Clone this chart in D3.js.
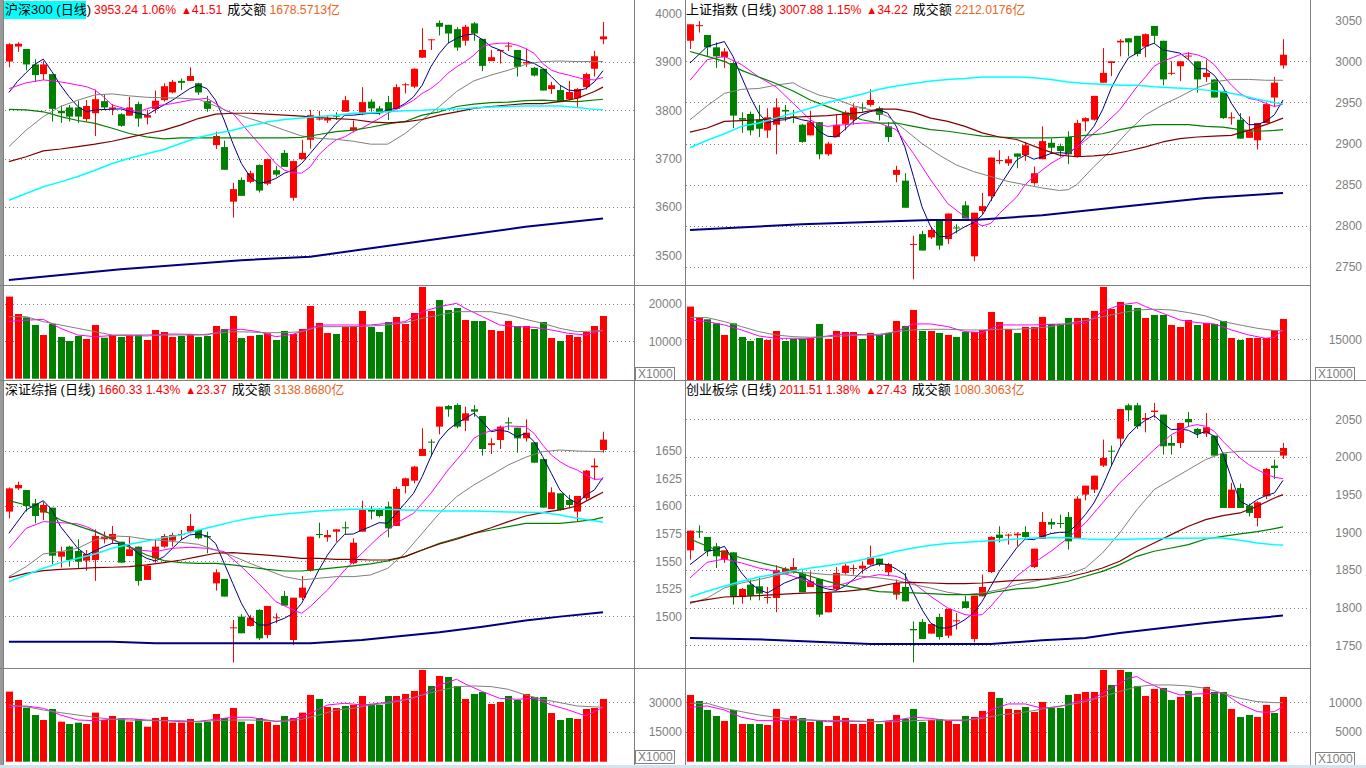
<!DOCTYPE html>
<html><head><meta charset="utf-8">
<script src="https://cdn.jsdelivr.net/npm/d3@7"></script>
<style>body{margin:0;background:#fff;overflow:hidden}svg{display:block}</style>
</head><body><svg id="c" width="1366" height="768"></svg>
<script>
// ---------- header data ----------
const indexNames=['沪深300','上证指数','深证综指','创业板综'];
const lastClose=['3953.24','3007.88','1660.33','2011.51'];
const pctChange=['1.06%','1.15%','1.43%','1.38%'];
const ptChange=['41.51','34.22','23.37','27.43'];
const turnover=['1678.5713','2212.0176','3138.8680','1080.3063'];

// ---------- tick labels ----------
const hs300PriceTicks=[4000,3900,3800,3700,3600,3500];
const hs300GridTicks=[3900,3800,3700,3600,3500];
const hs300VolTicks=[20000,10000];
const shPriceTicks=[3050,3000,2950,2900,2850,2800,2750];
const shGridTicks=[3000,2950,2900,2850,2800,2750];
const shVolTicks=[15000];
const szPriceTicks=[1650,1625,1600,1575,1550,1525,1500];
const szGridTicks=[1650,1600,1550,1500];
const szVolTicks=[30000,15000];
const cybPriceTicks=[2050,2000,1950,1900,1850,1800,1750];
const cybGridTicks=[2050,2000,1950,1900,1850,1800,1750];
const cybVolTicks=[10000,5000];

// ---------- 沪深300 ----------
const hs300Ohlc=[[3901,3939,3889,3937],[3932,3941,3921,3938],[3927,3927,3883,3895],[3895,3906,3859,3873],[3875,3902,3863,3895],[3875,3875,3777,3803],[3799,3810,3774,3794],[3806,3811,3777,3787],[3806,3820,3774,3787],[3782,3821,3777,3809],
[3794,3843,3747,3823],[3819,3833,3801,3806],[3803,3813,3790,3806],[3792,3794,3766,3768],[3789,3828,3789,3806],[3813,3818,3766,3783],[3785,3801,3771,3790],[3803,3841,3794,3820],[3821,3856,3818,3850],[3837,3863,3835,3859],
[3861,3866,3842,3857],[3861,3889,3861,3871],[3856,3857,3832,3837],[3819,3830,3797,3803],[3728,3756,3720,3747],[3724,3737,3677,3677],[3611,3650,3578,3637],[3656,3661,3623,3623],[3652,3675,3649,3670],[3687,3688,3630,3634],
[3648,3700,3645,3699],[3676,3685,3663,3667],[3712,3718,3683,3683],[3619,3696,3613,3695],[3699,3739,3699,3712],[3739,3801,3721,3790],[3781,3799,3779,3783],[3779,3790,3774,3783],[3789,3796,3780,3787],[3797,3830,3797,3821],
[3759,3779,3754,3765],[3794,3848,3790,3817],[3818,3823,3797,3804],[3804,3809,3790,3794],[3817,3830,3780,3797],[3803,3854,3802,3848],[3852,3857,3835,3854],[3849,3887,3846,3886],[3909,3970,3909,3925],[3945,3947,3925,3947],
[3981,3986,3955,3973],[3977,3977,3939,3959],[3968,3972,3923,3930],[3944,3977,3934,3973],[3980,3983,3944,3959],[3948,3948,3881,3892],[3902,3925,3902,3910],[3923,3925,3897,3925],[3932,3941,3923,3934],[3925,3925,3870,3890],
[3897,3928,3890,3900],[3888,3890,3870,3872],[3886,3886,3841,3841],[3844,3859,3834,3852],[3842,3851,3817,3817],[3823,3861,3821,3838],[3825,3846,3806,3844],[3848,3878,3843,3875],[3886,3923,3870,3912],[3947,3983,3937,3953]];
const hs300Vol=[21970,17320,16430,14380,11700,14640,11160,10090,11430,10630,14380,10980,11700,11160,11700,11700,10360,13040,12500,11160,11430,11970,11160,11430,14110,13310,16790,10890,11430,11700,12150,10360,12770,11970,13310,19470,14910,12230,11970,13840,14110,18130,13840,12500,15180,16520,14640,17590,24560,18130,21070,18400,18930,15720,15450,15450,13040,12770,15450,14110,14110,13310,15180,10890,10090,11700,11160,12500,14110,16790];
const hs300Ma5=[[0,3837],[1,3860],[2,3878],[3,3895],[4,3906],[5,3880],[6,3852],[7,3828],[8,3808],[9,3797],[10,3801],[13,3803],[15,3794],[16,3790],[17,3801],[19,3821],[21,3845],[22,3852],[23,3845],[24,3821],[25,3780],[26,3732],[27,3690],[28,3663],[29,3649],[30,3652],[31,3659],[32,3670],[33,3676],[34,3690],[35,3711],[36,3732],[37,3752],[38,3773],[39,3790],[40,3790],[41,3792],[42,3794],[43,3794],[44,3801],[45,3804],[46,3814],[47,3828],[48,3852],[49,3890],[50,3918],[51,3939],[52,3949],[53,3956],[54,3958],[55,3946],[56,3932],[57,3925],[58,3914],[59,3908],[60,3903],[61,3897],[62,3887],[63,3870],[64,3852],[65,3842],[66,3840],[67,3845],[68,3859],[69,3882]];
const hs300Ma10=[[0,3845],[2,3857],[4,3863],[6,3859],[9,3849],[10,3842],[11,3828],[12,3811],[14,3801],[15,3797],[17,3809],[19,3814],[21,3821],[23,3825],[24,3814],[25,3801],[26,3794],[27,3773],[28,3752],[29,3732],[30,3711],[31,3690],[32,3676],[33,3671],[34,3670],[35,3683],[36,3708],[37,3725],[38,3739],[39,3745],[40,3756],[41,3763],[42,3773],[43,3783],[44,3794],[45,3802],[46,3811],[47,3821],[48,3835],[49,3845],[50,3859],[51,3877],[52,3890],[53,3901],[54,3914],[55,3932],[56,3937],[57,3939],[58,3939],[59,3935],[60,3928],[61,3918],[62,3897],[63,3883],[64,3877],[65,3873],[66,3868],[67,3864],[68,3863],[69,3868]];
const hs300Ma20=[[0,3725],[2,3759],[4,3787],[6,3808],[8,3821],[10,3832],[12,3834],[14,3830],[16,3827],[18,3826],[20,3825],[22,3823],[24,3809],[26,3794],[28,3783],[30,3772],[32,3759],[34,3747],[36,3742],[38,3740],[40,3736],[42,3730],[44,3730],[46,3752],[48,3780],[50,3808],[52,3839],[54,3861],[56,3873],[58,3883],[60,3895],[62,3901],[64,3902],[66,3901],[69,3901]];
const hs300Ma30=[[0,3802],[2,3801],[4,3797],[6,3787],[8,3779],[10,3773],[12,3763],[14,3752],[16,3745],[18,3741],[20,3743],[24,3743],[28,3743],[32,3743],[34,3744],[36,3750],[38,3756],[40,3759],[42,3765],[44,3772],[46,3777],[48,3790],[50,3797],[52,3808],[54,3813],[56,3816],[58,3817],[60,3820],[62,3821],[64,3819],[66,3818],[69,3823]];
const hs300Ma60=[[0,3694],[2,3704],[4,3716],[6,3720],[8,3725],[10,3730],[12,3736],[14,3744],[16,3752],[18,3759],[20,3770],[22,3783],[24,3792],[26,3794],[28,3794],[30,3792],[32,3790],[34,3788],[36,3785],[38,3783],[40,3781],[42,3776],[44,3774],[46,3776],[48,3781],[50,3790],[52,3797],[54,3804],[56,3808],[58,3811],[60,3814],[62,3814],[64,3818],[66,3825],[68,3839],[69,3848]];
const hs300Ma120=[[0,3614],[2,3628],[4,3642],[6,3652],[8,3663],[10,3676],[12,3690],[14,3701],[16,3710],[18,3719],[20,3732],[22,3744],[24,3752],[26,3759],[28,3768],[30,3776],[32,3781],[34,3784],[36,3787],[38,3790],[40,3794],[42,3795],[44,3797],[46,3799],[48,3800],[50,3802],[52,3803],[54,3805],[56,3807],[58,3808],[60,3809],[62,3809],[64,3809],[66,3806],[68,3802],[69,3801]];
const hs300Ma250=[[0,3449],[13,3471],[27,3490],[35,3497],[41,3512],[51,3537],[60,3559],[69,3576]];
const hs300VolMa5=[[0,15270],[1,15540],[4,15900],[6,13480],[8,11700],[10,11250],[13,11700],[16,11700],[19,11970],[21,11880],[23,11700],[25,13040],[27,13220],[29,12590],[31,11250],[33,11880],[35,13480],[36,14380],[38,14380],[40,14380],[42,14380],[44,14820],[46,15270],[48,17950],[50,19290],[52,20180],[53,18840],[55,16610],[57,14380],[59,13930],[61,13750],[63,13040],[65,12140],[67,11700],[69,13040]];
const hs300VolMa10=[[0,16610],[2,16610],[4,15270],[6,14380],[8,13480],[10,12590],[12,11700],[14,11520],[16,11430],[18,11700],[20,11700],[22,11700],[24,12140],[26,12590],[28,12500],[30,12320],[32,12320],[34,12590],[36,13930],[38,13930],[40,13930],[42,14110],[44,14380],[46,15000],[48,16160],[50,17060],[52,17950],[54,17950],[56,17950],[58,17060],[60,15900],[62,14820],[64,13480],[66,12590],[69,12860]];

// ---------- 上证指数 ----------
const shOhlc=[[3025,3045,3015,3045],[3043,3049,3035,3044],[3032,3032,3006,3017],[3017,3023,2992,3006],[3005,3016,2992,3012],[2998,3000,2919,2934],[2931,2938,2913,2929],[2936,2939,2910,2916],[2929,2947,2908,2918],[2916,2943,2907,2932],
[2923,2955,2887,2944],[2941,2947,2927,2939],[2933,2941,2925,2932],[2923,2924,2901,2902],[2910,2940,2910,2926],[2926,2926,2881,2887],[2887,2902,2885,2900],[2908,2935,2908,2923],[2924,2940,2916,2938],[2929,2949,2923,2944],
[2944,2949,2939,2943],[2947,2966,2945,2953],[2943,2945,2928,2935],[2921,2926,2902,2908],[2862,2873,2853,2868],[2855,2864,2822,2822],[2777,2788,2735,2778],[2790,2794,2770,2770],[2786,2799,2784,2795],[2807,2808,2771,2776],
[2784,2815,2778,2815],[2798,2802,2791,2797],[2825,2830,2809,2809],[2763,2816,2757,2816],[2818,2840,2814,2824],[2836,2883,2830,2883],[2879,2892,2875,2880],[2876,2885,2873,2881],[2888,2888,2870,2884],[2886,2902,2879,2898],
[2852,2872,2850,2864],[2881,2921,2881,2903],[2901,2906,2889,2895],[2897,2900,2884,2891],[2908,2915,2875,2887],[2884,2929,2883,2925],[2927,2932,2915,2931],[2929,2958,2928,2958],[2974,3016,2974,2986],[2998,3000,2982,3000],
[3023,3027,3006,3025],[3028,3028,3006,3023],[3031,3031,3006,3009],[3018,3034,3005,3033],[3043,3043,3022,3031],[3025,3025,2971,2978],[2985,3000,2983,2986],[2994,3000,2976,3000],[3006,3011,3002,3007],[3000,3000,2962,2978],
[2981,3002,2975,2986],[2978,2978,2956,2956],[2964,2964,2930,2931],[2931,2938,2923,2932],[2929,2937,2906,2906],[2907,2933,2907,2915],[2904,2925,2893,2925],[2925,2949,2925,2948],[2956,2981,2945,2974],[2995,3027,2991,3008]];
const shVol=[27050,22990,22380,20900,16600,20900,15860,14390,15490,14750,18070,14390,15120,15120,15490,20660,15120,18070,17700,17700,15120,17340,16600,17340,21760,19920,25820,18070,18070,17340,16600,15860,17700,17700,18440,25080,21390,18810,17340,19550,19550,23240,20660,20660,22870,22870,22870,25450,34300,26190,28770,27660,26560,22870,23980,23980,20290,19550,22130,20290,21020,20660,21760,15490,14750,15490,15490,15490,18440,22500];
const shMa5=[[0,2998],[2,3018],[4,3024],[5,3006],[6,2981],[7,2957],[8,2937],[9,2925],[10,2928],[11,2929],[12,2932],[13,2929],[14,2927],[15,2915],[16,2909],[17,2908],[18,2917],[19,2927],[20,2935],[21,2939],[22,2941],[23,2937],[24,2921],[25,2896],[26,2860],[27,2823],[28,2799],[29,2787],[30,2787],[31,2793],[32,2799],[33,2804],[34,2813],[35,2831],[36,2848],[37,2864],[38,2880],[39,2886],[40,2881],[41,2884],[42,2888],[43,2889],[44,2888],[45,2896],[46,2908],[47,2921],[48,2941],[49,2967],[50,2987],[51,3004],[52,3010],[53,3018],[54,3022],[55,3014],[56,3012],[57,3010],[58,3002],[59,2991],[60,2991],[61,2983],[62,2969],[63,2949],[64,2933],[65,2923],[66,2923],[67,2927],[68,2935],[69,2953]];
const shMa10=[[0,2977],[2,3002],[4,3006],[6,2996],[8,2981],[10,2969],[12,2949],[14,2929],[15,2923],[16,2921],[18,2923],[20,2925],[22,2925],[24,2917],[26,2888],[28,2856],[30,2827],[32,2811],[34,2800],[35,2803],[36,2815],[38,2835],[39,2850],[40,2860],[42,2876],[44,2888],[46,2904],[48,2921],[50,2941],[52,2969],[53,2981],[54,2994],[55,3000],[57,3008],[58,3010],[59,3008],[60,3004],[61,2996],[62,2983],[63,2971],[64,2961],[65,2955],[66,2953],[67,2949],[68,2945],[69,2948]];
const shMa20=[[0,2929],[2,2946],[4,2961],[6,2966],[8,2967],[10,2971],[12,2974],[13,2968],[15,2959],[17,2954],[19,2946],[21,2941],[23,2933],[25,2917],[27,2900],[29,2886],[31,2874],[33,2866],[35,2860],[37,2854],[39,2850],[41,2846],[43,2843],[44,2844],[45,2850],[47,2872],[49,2892],[51,2915],[53,2935],[55,2947],[57,2957],[59,2968],[61,2975],[63,2978],[65,2978],[67,2977],[69,2977]];
const shMa30=[[0,3012],[2,3006],[4,3000],[6,2989],[8,2981],[10,2973],[12,2964],[14,2953],[16,2945],[18,2937],[20,2929],[22,2925],[24,2925],[26,2921],[28,2917],[30,2915],[32,2912],[34,2909],[36,2908],[38,2907],[40,2907],[42,2907],[44,2908],[46,2910],[48,2912],[50,2917],[52,2921],[54,2923],[56,2923],[58,2923],[60,2921],[62,2920],[64,2917],[66,2915],[68,2916],[69,2917]];
const shMa60=[[0,2914],[2,2919],[4,2927],[6,2928],[8,2929],[10,2930],[12,2932],[14,2933],[16,2934],[18,2936],[20,2938],[22,2942],[24,2942],[26,2938],[28,2931],[30,2927],[32,2921],[34,2913],[36,2908],[38,2905],[39,2901],[41,2893],[43,2886],[45,2884],[47,2885],[49,2887],[51,2891],[53,2896],[55,2902],[57,2906],[59,2908],[61,2909],[63,2910],[65,2916],[67,2923],[69,2931]];
const shMa120=[[0,2895],[2,2904],[4,2912],[6,2921],[8,2925],[10,2931],[12,2937],[14,2943],[16,2950],[18,2955],[20,2960],[22,2966],[24,2970],[26,2973],[28,2976],[30,2978],[32,2979],[34,2981],[36,2981],[38,2981],[40,2980],[42,2978],[44,2975],[46,2973],[48,2972],[50,2971],[52,2971],[54,2969],[56,2968],[58,2967],[60,2965],[62,2963],[64,2959],[66,2954],[68,2950],[69,2948]];
const shMa250=[[0,2795],[13,2802],[28,2807],[33,2807],[41,2813],[50,2823],[60,2834],[69,2840]];
const shVolMa5=[[0,22130],[2,21520],[4,20290],[6,18440],[8,16230],[10,15370],[12,15370],[14,15370],[16,16230],[18,16970],[20,16720],[22,16480],[24,17830],[26,20660],[28,20660],[30,19670],[32,17830],[34,17460],[36,20290],[38,20290],[40,20290],[42,20530],[44,20660],[46,20900],[48,25200],[50,27660],[52,28520],[53,27050],[55,24590],[57,22130],[59,21150],[61,20660],[63,18440],[65,16600],[67,15370],[68,15740],[69,18440]];
const shVolMa10=[[0,23110],[2,22990],[4,21520],[6,19670],[8,17830],[10,16600],[12,15980],[14,15740],[16,15980],[18,16230],[20,16600],[22,16840],[24,17830],[26,18440],[28,18690],[30,18690],[32,18440],[34,18440],[36,18690],[38,18690],[40,19060],[42,19670],[44,20900],[46,21890],[48,23360],[50,24590],[52,25820],[54,26070],[56,25820],[58,24840],[60,23610],[62,21520],[64,20290],[66,19060],[68,18200],[69,18200]];

// ---------- 深证综指 ----------
const szOhlc=[[1595.0,1617.0,1588.9,1616.1],[1616.1,1622.2,1614.6,1619.2],[1614.6,1614.6,1595.0,1600.1],[1602.5,1606.5,1584.4,1591.0],[1594.1,1604.0,1587.4,1601.0],[1598.6,1598.6,1547.2,1555.0],[1554.1,1563.2,1544.2,1558.7],[1563.2,1564.1,1545.1,1551.1],[1559.3,1569.9,1543.6,1549.6],[1550.5,1560.2,1541.4,1556.6],
[1551.1,1578.9,1532.1,1572.9],[1569.9,1576.8,1566.2,1572.3],[1569.9,1582.0,1566.2,1574.7],[1567.7,1567.7,1548.7,1548.7],[1554.7,1572.3,1554.7,1560.8],[1563.2,1563.2,1527.8,1532.1],[1533.0,1546.0,1533.0,1546.0],[1552.6,1569.9,1548.7,1563.2],[1563.2,1574.7,1562.3,1572.9],[1568.7,1575.9,1563.2,1573.8],
[1573.8,1578.3,1569.3,1574.7],[1576.8,1592.8,1575.3,1582.0],[1578.3,1578.3,1569.9,1570.8],[1572.9,1576.8,1557.2,1571.7],[1529.9,1542.6,1523.3,1539.9],[1533.9,1533.9,1517.9,1517.9],[1489.1,1496.7,1458.0,1490.0],[1499.7,1501.8,1484.6,1484.6],[1491.2,1501.2,1490.6,1498.8],[1505.8,1506.4,1478.5,1480.0],
[1483.1,1509.4,1480.0,1509.4],[1498.2,1502.7,1493.7,1499.1],[1518.5,1523.0,1509.7,1509.7],[1478.5,1516.9,1474.0,1516.9],[1516.9,1536.6,1514.8,1526.0],[1541.4,1572.3,1540.5,1572.3],[1574.7,1585.0,1570.8,1573.8],[1571.7,1578.3,1567.7,1573.8],[1576.8,1578.9,1567.7,1578.9],[1580.8,1585.9,1574.7,1579.8],
[1548.1,1570.8,1547.2,1566.8],[1576.8,1604.9,1576.8,1596.5],[1597.1,1600.1,1588.0,1595.0],[1596.5,1598.0,1589.8,1591.0],[1599.5,1604.0,1571.7,1579.8],[1582.0,1617.6,1582.0,1615.5],[1618.2,1625.8,1611.6,1625.2],[1623.1,1636.4,1620.7,1635.8],[1645.5,1670.6,1645.5,1651.8],[1658.5,1660.6,1644.9,1657.6],
[1672.1,1690.2,1665.1,1690.2],[1690.8,1691.7,1681.1,1687.8],[1691.7,1693.2,1670.6,1672.1],[1677.5,1690.2,1668.1,1684.2],[1687.8,1691.7,1681.1,1685.7],[1681.8,1681.8,1645.8,1651.8],[1655.4,1661.5,1647.3,1657.0],[1660.0,1673.0,1651.8,1672.1],[1676.0,1680.5,1669.1,1675.1],[1671.2,1671.2,1648.5,1661.5],
[1661.5,1678.7,1658.5,1666.6],[1657.9,1657.9,1639.4,1639.4],[1642.7,1642.7,1598.6,1598.6],[1597.4,1617.0,1597.4,1612.5],[1611.6,1611.6,1595.9,1596.5],[1605.5,1610.1,1598.0,1601.0],[1595.0,1609.2,1585.9,1609.2],[1607.1,1632.8,1604.9,1632.2],[1635.2,1643.3,1623.7,1636.7],[1650.9,1667.5,1648.5,1660.3]];
const szVol=[35390,31170,27300,23590,21060,26620,20220,19040,19710,19040,24770,21060,23080,21900,20220,21570,17690,22070,22580,19710,19710,21570,19710,20220,24100,22070,27130,20220,19040,22070,20220,18540,23080,22070,24770,33700,31680,27630,27130,28140,28650,33190,29150,28650,33190,33190,34210,35720,46340,38250,43300,42800,38250,31680,34210,35220,29150,30160,33190,31170,34210,32690,32690,24600,21060,22070,21570,26620,27130,31680];
const szMa5=[[0,1575.3],[2,1596.5],[4,1604.9],[5,1596.5],[6,1581.4],[8,1561.7],[9,1555.6],[11,1563.2],[12,1566.2],[13,1566.2],[14,1563.8],[15,1557.2],[16,1552.6],[17,1550.2],[18,1554.1],[19,1561.7],[20,1569.3],[21,1573.8],[22,1574.7],[23,1572.9],[24,1566.2],[25,1548.1],[26,1529.9],[27,1511.8],[28,1498.2],[29,1492.1],[30,1492.1],[31,1495.2],[32,1498.2],[33,1502.7],[34,1511.8],[35,1526.9],[36,1542.0],[37,1555.6],[38,1566.2],[39,1574.4],[40,1574.7],[41,1578.3],[42,1581.4],[43,1585.0],[44,1584.4],[45,1593.5],[46,1602.5],[47,1611.6],[48,1626.7],[49,1644.9],[50,1660.0],[51,1669.1],[52,1675.1],[53,1679.6],[54,1684.2],[55,1676.6],[56,1667.5],[57,1669.1],[58,1667.5],[59,1663.0],[60,1666.0],[61,1658.5],[62,1644.9],[63,1629.7],[64,1614.6],[65,1607.1],[66,1602.5],[67,1610.1],[68,1614.6],[69,1626.1]];
const szMa10=[[0,1561.7],[2,1579.8],[4,1585.9],[6,1585.0],[8,1583.8],[9,1581.4],[11,1573.8],[13,1566.2],[15,1560.2],[17,1558.7],[19,1561.7],[21,1562.6],[23,1561.7],[25,1558.7],[27,1545.1],[29,1529.9],[31,1513.3],[33,1505.8],[34,1502.7],[35,1508.8],[37,1523.9],[39,1542.0],[41,1557.2],[43,1572.3],[45,1584.4],[47,1593.5],[49,1611.6],[51,1632.8],[53,1650.9],[54,1661.5],[55,1666.0],[57,1670.6],[58,1672.7],[60,1672.1],[61,1666.0],[62,1655.4],[63,1646.4],[64,1640.3],[65,1635.8],[66,1632.8],[67,1628.2],[68,1624.3],[69,1624.6]];
const szMa20=[[0,1536.0],[2,1545.1],[4,1556.6],[6,1558.7],[8,1561.7],[10,1569.3],[12,1572.9],[14,1572.3],[16,1569.9],[18,1568.7],[20,1567.1],[22,1565.3],[24,1560.2],[26,1554.7],[28,1548.1],[30,1542.0],[32,1536.0],[34,1533.0],[36,1534.5],[38,1536.0],[40,1536.0],[42,1537.5],[44,1543.6],[46,1557.2],[48,1575.3],[50,1593.5],[52,1608.6],[54,1619.2],[56,1628.2],[58,1637.3],[60,1644.3],[62,1649.4],[64,1650.9],[66,1650.0],[69,1649.4]];
const szMa30=[[0,1604.9],[2,1601.0],[4,1596.5],[6,1587.4],[8,1582.0],[10,1576.8],[12,1569.9],[14,1562.6],[16,1555.6],[18,1550.5],[20,1548.7],[22,1548.1],[24,1548.1],[26,1546.6],[28,1544.5],[30,1542.6],[32,1541.1],[34,1541.1],[36,1542.6],[38,1544.2],[40,1545.7],[42,1547.5],[44,1550.2],[46,1554.1],[48,1560.2],[50,1566.2],[52,1570.8],[54,1575.3],[56,1578.3],[58,1581.4],[60,1584.4],[62,1584.4],[64,1584.4],[66,1585.9],[68,1588.0],[69,1589.8]];
const szMa60=[[0,1535.1],[2,1539.0],[4,1541.4],[6,1542.6],[8,1543.3],[10,1544.2],[12,1544.5],[14,1545.1],[16,1546.6],[18,1548.7],[20,1551.1],[22,1554.1],[24,1557.2],[26,1557.8],[28,1556.6],[30,1555.6],[32,1554.1],[34,1552.6],[36,1552.6],[38,1551.7],[40,1551.7],[42,1551.1],[44,1551.1],[46,1554.1],[48,1560.2],[50,1565.6],[52,1569.9],[54,1575.3],[56,1580.4],[58,1585.9],[60,1591.0],[62,1594.1],[64,1596.5],[66,1600.1],[68,1608.6],[69,1612.5]];
const szMa120=[[0,1531.5],[2,1537.5],[4,1543.6],[6,1548.7],[8,1552.6],[10,1556.6],[12,1561.7],[14,1565.3],[16,1568.4],[18,1571.4],[20,1573.8],[22,1578.3],[24,1582.0],[26,1585.9],[28,1588.9],[30,1591.3],[32,1592.8],[34,1594.1],[36,1595.6],[38,1596.5],[40,1597.1],[42,1597.1],[44,1597.1],[46,1596.5],[48,1595.9],[50,1595.6],[52,1595.6],[54,1595.6],[56,1595.0],[58,1594.7],[60,1594.4],[62,1594.1],[64,1591.9],[66,1588.9],[68,1586.8],[69,1585.3]];
const szMa250=[[0,1477.0],[12,1477.0],[17,1475.5],[27,1475.5],[35,1475.5],[41,1478.5],[45,1481.6],[50,1485.5],[55,1490.6],[60,1496.1],[64,1499.7],[69,1503.6]];
const szVolMa5=[[0,27470],[2,28140],[4,26960],[6,23590],[8,21060],[10,20730],[12,21400],[14,21740],[16,21060],[18,20730],[20,20220],[22,20390],[24,21400],[26,22410],[28,22410],[30,21060],[31,20220],[33,21400],[35,24430],[37,28650],[39,29490],[41,28650],[43,29490],[45,30840],[47,32020],[48,33700],[50,38760],[52,41620],[53,39260],[55,35390],[57,32020],[59,31510],[61,32020],[63,28650],[65,26120],[67,23080],[68,25280],[69,27470]];
const szVolMa10=[[0,28650],[2,27800],[4,26120],[6,24770],[8,23590],[10,22410],[12,21400],[14,21060],[16,20730],[18,20730],[20,20730],[22,20220],[24,20730],[26,21060],[28,21060],[30,20730],[32,20390],[34,21400],[36,23590],[38,26120],[40,26960],[42,28650],[44,29490],[46,31170],[48,33700],[50,35890],[52,37910],[54,38250],[56,37910],[58,36560],[60,33700],[62,31510],[64,29820],[66,28140],[69,27470]];

// ---------- 创业板综 ----------
const cybOhlc=[[1876.1,1902.2,1863.7,1902.2],[1901.3,1909.3,1892.5,1900.0],[1893.8,1893.8,1868.1,1874.8],[1881.4,1885.8,1852.6,1868.1],[1863.7,1876.1,1859.3,1876.1],[1873.4,1873.4,1804.0,1814.1],[1814.1,1826.1,1805.3,1824.8],[1830.5,1837.2,1809.7,1815.9],[1828.3,1839.4,1809.7,1818.6],[1812.8,1827.4,1805.3,1814.1],
[1812.8,1856.2,1793.8,1849.5],[1846.0,1853.9,1845.1,1851.8],[1848.2,1865.9,1845.1,1853.9],[1845.1,1848.2,1820.3,1820.3],[1827.4,1848.2,1827.4,1834.9],[1838.0,1838.0,1787.6,1790.7],[1793.8,1819.5,1793.8,1819.5],[1824.8,1853.9,1823.0,1846.0],[1846.0,1857.9,1843.8,1855.7],[1851.3,1857.1,1843.8,1852.6],
[1851.8,1861.5,1845.1,1855.7],[1857.1,1882.3,1855.7,1866.8],[1865.0,1865.0,1854.9,1857.1],[1846.9,1859.3,1841.6,1857.9],[1817.2,1837.2,1810.6,1832.7],[1827.4,1846.0,1808.4,1808.4],[1771.7,1781.8,1727.4,1769.9],[1781.0,1784.9,1758.4,1758.4],[1765.5,1778.3,1765.5,1778.3],[1787.6,1792.0,1757.5,1761.0],
[1762.8,1798.2,1759.7,1798.2],[1781.8,1792.9,1770.8,1783.2],[1808.4,1815.9,1799.5,1799.5],[1758.4,1815.9,1754.0,1815.9],[1815.0,1843.8,1815.0,1827.4],[1847.3,1894.7,1846.0,1893.8],[1896.9,1908.0,1886.7,1892.5],[1895.6,1898.2,1883.6,1896.9],[1896.0,1900.0,1881.4,1898.2],[1900.4,1908.0,1891.1,1893.8],
[1853.9,1878.3,1852.6,1878.3],[1891.1,1927.0,1891.1,1913.7],[1913.7,1918.1,1904.4,1910.2],[1912.4,1923.4,1905.7,1911.1],[1920.4,1927.0,1877.0,1888.0],[1891.6,1947.8,1891.6,1944.7],[1950.0,1961.9,1942.5,1961.9],[1956.6,1975.2,1952.2,1975.2],[1988.5,2023.0,1986.7,1998.7],[2008.4,2015.0,1987.6,2007.1],
[2024.3,2063.7,2014.2,2063.7],[2068.6,2070.8,2047.3,2062.0],[2068.6,2071.7,2037.2,2040.7],[2049.6,2058.4,2032.7,2051.8],[2059.7,2071.7,2051.8,2061.5],[2056.2,2056.2,2003.1,2014.2],[2018.6,2028.3,2003.1,2015.0],[2018.6,2045.1,2011.9,2045.1],[2050.4,2059.7,2039.8,2046.0],[2037.2,2038.5,2025.2,2031.0],
[2031.0,2058.4,2026.5,2039.4],[2028.3,2028.3,2001.8,2001.8],[2004.4,2004.4,1932.3,1932.3],[1932.3,1965.5,1932.3,1956.6],[1958.8,1964.6,1932.3,1932.3],[1935.4,1938.1,1921.2,1925.7],[1919.0,1941.2,1908.0,1939.8],[1947.8,1985.4,1944.2,1984.1],[1988.5,1996.5,1970.8,1985.4],[2001.8,2018.6,1997.3,2011.9]];
const cybVol=[11240,10220,8710,7700,6850,8710,6350,6350,6350,6180,8880,7020,7700,7360,6690,7020,6010,7700,7360,6350,6350,7190,6350,6850,7870,7190,8880,6690,7020,7190,6850,6350,7700,7530,8540,11740,10730,8880,8710,9210,8370,10060,9050,9050,11240,11400,11740,11740,15450,12920,15450,15110,12750,11070,12250,12420,10390,10900,11910,10900,12580,11740,11740,8880,7530,7870,7530,9550,8200,10900];
const cybMa5=[[0,1857.1],[2,1874.8],[3,1877.0],[4,1881.4],[5,1863.7],[6,1846.0],[7,1832.7],[8,1823.9],[9,1819.5],[10,1826.1],[11,1832.7],[12,1837.2],[13,1841.6],[14,1834.9],[15,1828.3],[16,1824.8],[17,1823.0],[18,1828.3],[19,1837.2],[20,1848.2],[21,1854.9],[22,1858.4],[23,1857.1],[24,1851.3],[25,1843.8],[26,1819.5],[27,1797.3],[28,1779.6],[29,1773.0],[30,1773.0],[31,1777.4],[32,1784.1],[33,1792.9],[34,1808.4],[35,1828.3],[36,1848.2],[37,1863.7],[38,1879.2],[39,1891.1],[40,1890.3],[41,1894.7],[42,1898.2],[43,1900.0],[44,1900.0],[45,1910.2],[46,1923.4],[47,1938.9],[48,1961.1],[49,1987.6],[50,2011.9],[51,2029.6],[52,2040.7],[53,2048.7],[54,2054.9],[55,2045.1],[56,2036.3],[57,2037.2],[58,2035.4],[59,2029.6],[60,2034.1],[61,2027.4],[62,2005.3],[63,1972.1],[64,1941.1],[65,1935.4],[66,1943.4],[67,1948.7],[68,1952.2],[69,1969.0]];
const cybMa10=[[0,1839.4],[2,1860.2],[4,1864.6],[6,1859.3],[8,1852.6],[10,1848.2],[12,1841.6],[14,1832.7],[16,1827.4],[18,1831.8],[20,1839.4],[22,1843.8],[24,1841.6],[26,1832.7],[28,1815.0],[30,1799.5],[32,1790.7],[33,1789.4],[34,1790.7],[35,1801.8],[36,1815.0],[38,1841.6],[39,1850.4],[40,1859.3],[42,1874.8],[44,1892.5],[46,1912.4],[48,1938.9],[50,1965.5],[52,1987.6],[54,2009.7],[56,2029.6],[58,2040.7],[59,2042.9],[60,2040.7],[61,2034.1],[62,2020.8],[63,2009.7],[64,1998.7],[65,1989.8],[66,1983.2],[67,1977.4],[68,1973.0],[69,1971.2]];
const cybMa20=[[0,1805.3],[2,1812.8],[4,1826.1],[6,1832.7],[8,1837.2],[10,1842.5],[12,1846.9],[14,1846.0],[16,1843.8],[18,1843.4],[20,1841.6],[22,1839.4],[24,1836.3],[26,1830.5],[28,1826.1],[30,1820.3],[32,1817.2],[34,1819.5],[36,1823.9],[38,1830.5],[40,1835.0],[42,1839.4],[44,1843.8],[46,1852.6],[48,1872.6],[50,1899.1],[52,1930.1],[54,1956.6],[56,1969.9],[58,1983.2],[60,1996.5],[62,2005.3],[64,2007.5],[66,2007.5],[69,2007.5]];
const cybMa30=[[0,1891.1],[2,1881.4],[4,1872.6],[6,1865.9],[8,1860.2],[10,1854.9],[12,1848.2],[14,1841.6],[16,1834.9],[18,1829.2],[20,1824.8],[22,1821.2],[24,1820.3],[26,1819.5],[28,1818.6],[30,1817.2],[32,1817.2],[34,1817.2],[36,1821.7],[38,1824.8],[40,1826.1],[42,1830.5],[44,1835.0],[46,1841.6],[48,1848.2],[50,1857.1],[52,1868.1],[54,1874.8],[56,1879.2],[58,1883.6],[60,1891.1],[62,1894.7],[64,1897.8],[66,1900.9],[68,1904.9],[69,1907.1]];
const cybMa60=[[0,1807.1],[2,1810.6],[4,1814.1],[6,1815.0],[8,1815.9],[10,1817.2],[12,1818.6],[14,1819.5],[16,1820.3],[18,1821.7],[20,1823.9],[22,1828.3],[24,1832.7],[26,1833.6],[28,1832.7],[30,1831.8],[32,1831.8],[34,1832.7],[36,1834.5],[38,1836.3],[40,1837.2],[42,1838.0],[44,1840.7],[46,1846.0],[48,1852.6],[50,1861.5],[52,1874.8],[54,1885.8],[56,1896.9],[58,1908.0],[60,1916.8],[62,1922.1],[64,1925.7],[66,1934.5],[68,1945.6],[69,1950.0]];
const cybMa120=[[0,1814.1],[2,1821.7],[4,1828.3],[6,1835.0],[8,1840.7],[10,1844.7],[12,1849.1],[14,1852.6],[16,1855.7],[18,1859.3],[20,1863.7],[22,1869.0],[24,1874.8],[26,1879.2],[28,1882.7],[30,1885.0],[32,1886.7],[34,1888.0],[36,1889.4],[38,1891.1],[40,1892.5],[42,1892.9],[44,1892.9],[46,1891.1],[48,1890.3],[50,1890.3],[52,1891.1],[54,1891.6],[56,1892.0],[58,1892.0],[60,1892.5],[62,1892.5],[64,1889.4],[66,1885.8],[68,1883.6],[69,1883.2]];
const cybMa250=[[0,1759.7],[9,1757.5],[21,1751.8],[35,1751.8],[41,1756.6],[46,1759.7],[50,1766.4],[55,1773.0],[60,1779.6],[64,1784.1],[69,1789.4]];
const cybVolMa5=[[0,9160],[2,9380],[4,8710],[6,7470],[8,6910],[10,6910],[12,7020],[14,7020],[16,6740],[18,6800],[20,6800],[22,6740],[24,7020],[26,7470],[28,7300],[30,6910],[32,6910],[34,7470],[35,8710],[37,9720],[39,9720],[41,8990],[43,9270],[45,10110],[47,10670],[48,11520],[50,13200],[51,14050],[52,14330],[53,13480],[55,12190],[57,11240],[59,11400],[61,11520],[62,11630],[64,9720],[66,8430],[67,8310],[68,8430],[69,9270]];
const cybVolMa10=[[0,9830],[2,9830],[4,8990],[6,8430],[8,7870],[10,7470],[12,7130],[14,7020],[16,6910],[18,6910],[20,6800],[22,6740],[24,6740],[26,6910],[28,7020],[30,7020],[32,7020],[34,7300],[36,7870],[38,8150],[40,8600],[42,9160],[44,9550],[46,10110],[48,10960],[50,11800],[52,12640],[54,12920],[56,12920],[58,12750],[60,12360],[62,11520],[64,10670],[66,10110],[68,9940],[69,9940]];

// ---------- styles ----------
const UP='#ff0000', DOWN='#008000', GRID='#808080', AXIS_TXT='#808080', BORDER='#808080';
const maStyles=[{c:'#000080',w:1},{c:'#ff00ff',w:1},{c:'#808080',w:1},{c:'#008000',w:1.2},{c:'#800000',w:1.2},{c:'#00ffff',w:1.5},{c:'#000080',w:2}];
const volMaStyles=[{c:'#ff00ff',w:1},{c:'#808080',w:1}];
const FONT='"Liberation Sans", Arial, "Noto Sans CJK SC", sans-serif';

const panels=[
 {i:0,ohlc:hs300Ohlc,vol:hs300Vol,mas:[hs300Ma5,hs300Ma10,hs300Ma20,hs300Ma30,hs300Ma60,hs300Ma120,hs300Ma250],vmas:[hs300VolMa5,hs300VolMa10],
  left:4,right:634,top:0,mid:285,bottom:380,xr:[8.9,603],labelX:682,
  yd:[3500,4000],yr:[255.3,13.7],pt:hs300PriceTicks,gt:hs300GridTicks,vd:[0,20000],vr:[378.7,304],vt:hs300VolTicks,box:[635,367],sel:true},
 {i:1,ohlc:shOhlc,vol:shVol,mas:[shMa5,shMa10,shMa20,shMa30,shMa60,shMa120,shMa250],vmas:[shVolMa5,shVolMa10],
  left:685,right:1310,top:0,mid:285,bottom:380,xr:[690,1283],labelX:1362,
  yd:[2750,3050],yr:[267,20.2],pt:shPriceTicks,gt:shGridTicks,vd:[0,15000],vr:[380,339.3],vt:shVolTicks,box:[1315,367]},
 {i:2,ohlc:szOhlc,vol:szVol,mas:[szMa5,szMa10,szMa20,szMa30,szMa60,szMa120,szMa250],vmas:[szVolMa5,szVolMa10],
  left:4,right:634,top:380,mid:668,bottom:765,xr:[8.9,603],labelX:682,
  yd:[1500,1650],yr:[616.3,451],pt:szPriceTicks,gt:szGridTicks,vd:[0,30000],vr:[761.7,702.3],vt:szVolTicks,box:[635,750]},
 {i:3,ohlc:cybOhlc,vol:cybVol,mas:[cybMa5,cybMa10,cybMa20,cybMa30,cybMa60,cybMa120,cybMa250],vmas:[cybVolMa5,cybVolMa10],
  left:685,right:1310,top:380,mid:668,bottom:765,xr:[690,1283],labelX:1362,
  yd:[1750,2050],yr:[645.3,419.3],pt:cybPriceTicks,gt:cybGridTicks,vd:[0,10000],vr:[761.7,702.3],vt:cybVolTicks,box:[1315,752]}
];

const svg=d3.select('#c');
svg.append('rect').attr('width',1366).attr('height',768).attr('fill','#fff');
const defs=svg.append('defs');

panels.forEach(p=>{
  const g=svg.append('g');
  const x=d3.scaleLinear().domain([0,p.ohlc.length-1]).range(p.xr);
  const y=d3.scaleLinear().domain(p.yd).range(p.yr);
  const yv=d3.scaleLinear().domain(p.vd).range(p.vr);
  const cid='clip'+p.i, vid='vclip'+p.i;
  defs.append('clipPath').attr('id',cid).append('rect').attr('x',p.left).attr('y',p.top+1).attr('width',p.right-p.left).attr('height',p.mid-p.top-1);
  defs.append('clipPath').attr('id',vid).append('rect').attr('x',p.left).attr('y',p.mid+1).attr('width',p.right-p.left).attr('height',p.bottom-p.mid-1);

  // grid
  g.selectAll('.gp').data(p.gt).enter().append('line')
    .attr('x1',p.left+1).attr('x2',p.right).attr('y1',d=>Math.round(y(d))+0.5).attr('y2',d=>Math.round(y(d))+0.5)
    .attr('stroke',GRID).attr('stroke-dasharray','1,3');
  g.selectAll('.gv').data(p.vt).enter().append('line')
    .attr('x1',p.left+1).attr('x2',p.right).attr('y1',d=>Math.round(yv(d))+0.5).attr('y2',d=>Math.round(yv(d))+0.5)
    .attr('stroke',GRID).attr('stroke-dasharray','1,3');

  // axis labels
  g.selectAll('.lp').data(p.pt).enter().append('text')
    .attr('x',p.labelX).attr('y',d=>y(d)).attr('dy','0.36em').attr('text-anchor','end')
    .attr('font-family',FONT).attr('font-size',12).attr('fill',AXIS_TXT).text(d=>d);
  g.selectAll('.lv').data(p.vt).enter().append('text')
    .attr('x',p.labelX).attr('y',d=>yv(d)).attr('dy','0.36em').attr('text-anchor','end')
    .attr('font-family',FONT).attr('font-size',12).attr('fill',AXIS_TXT).text(d=>d);
  // X1000 box
  g.append('rect').attr('x',p.box[0]+0.5).attr('y',p.box[1]+0.5).attr('width',39).attr('height',13)
    .attr('fill','#fff').attr('stroke',BORDER);
  g.append('text').attr('x',p.box[0]+3).attr('y',p.box[1]+11).attr('font-family',FONT).attr('font-size',12)
    .attr('fill',AXIS_TXT).text('X1000');

  const col=d=>d[3]>=d[0]?UP:DOWN;
  // volume bars
  const vg=g.append('g').attr('clip-path',`url(#${vid})`);
  vg.selectAll('rect').data(p.vol).enter().append('rect')
    .attr('x',(d,i)=>Math.round(x(i))-3).attr('width',7)
    .attr('y',d=>yv(d)).attr('height',d=>Math.max(0,yv(0)-yv(d)))
    .attr('fill',(d,i)=>col(p.ohlc[i]));
  const lineV=d3.line().x(d=>x(d[0])).y(d=>yv(d[1]));
  p.vmas.forEach((m,k)=>vg.append('path').attr('d',lineV(m)).attr('fill','none')
    .attr('stroke',volMaStyles[k].c).attr('stroke-width',volMaStyles[k].w));

  // candles
  const cg=g.append('g').attr('clip-path',`url(#${cid})`);
  const c=cg.selectAll('g.c').data(p.ohlc).enter().append('g');
  c.append('line').attr('x1',(d,i)=>Math.round(x(i))+0.5).attr('x2',(d,i)=>Math.round(x(i))+0.5)
    .attr('y1',d=>y(d[1])).attr('y2',d=>y(d[2])).attr('stroke',col).attr('stroke-width',1);
  c.append('rect').attr('x',(d,i)=>Math.round(x(i))-3).attr('width',7)
    .attr('y',d=>Math.min(y(d[0]),y(d[3]))).attr('height',d=>Math.max(1,Math.abs(y(d[0])-y(d[3]))))
    .attr('fill',col);
  // MAs
  const lineP=d3.line().x(d=>x(d[0])).y(d=>y(d[1]));
  p.mas.forEach((m,k)=>cg.append('path').attr('d',lineP(m)).attr('fill','none')
    .attr('stroke',maStyles[k].c).attr('stroke-width',maStyles[k].w).attr('stroke-linejoin','round'));

  // header
  const hx=p.left+1, hy=p.top+14;
  if(p.sel){ g.append('rect').attr('x',p.left-1).attr('y',p.top+1).attr('width',83).attr('height',18).attr('fill','#00ffff'); }
  const t=g.append('text').attr('x',hx).attr('y',hy).attr('font-family',FONT).attr('font-size',13);
  t.append('tspan').attr('fill','#000').text(indexNames[p.i]+' (日线)');
  t.append('tspan').attr('dx',3).attr('fill','#ff0000').attr('font-size',12.2).text(lastClose[p.i]+' '+pctChange[p.i]);
  t.append('tspan').attr('dx',5).attr('fill','#ff0000').attr('font-size',11).text('▲');
  t.append('tspan').attr('fill','#ff0000').attr('font-size',12.2).text(ptChange[p.i]);
  t.append('tspan').attr('dx',5).attr('fill','#000').text('成交额');
  t.append('tspan').attr('dx',3).attr('fill','#e8651e').attr('font-size',12.2).text(turnover[p.i]);
  t.append('tspan').attr('fill','#e8651e').text('亿');
});

// frame lines
const fr=svg.append('g').attr('stroke',BORDER).attr('stroke-width',1);
fr.append('rect').attr('x',0).attr('y',0).attr('width',3).attr('height',766).attr('fill','#9a9a9a').attr('stroke','none');
[[634.5,0,634.5,766],[685.5,0,685.5,766],[1310.5,0,1310.5,766],[3.5,0,3.5,766]].forEach(l=>fr.append('line').attr('x1',l[0]).attr('y1',l[1]).attr('x2',l[2]).attr('y2',l[3]));
[[0,285.5,1310.5,285.5],[0,380.5,1366,380.5],[0,668.5,1310.5,668.5]].forEach(l=>fr.append('line').attr('x1',l[0]).attr('y1',l[1]).attr('x2',l[2]).attr('y2',l[3]));
svg.append('rect').attr('x',0).attr('y',765).attr('width',1366).attr('height',3).attr('fill','#d6e2ee');
</script></body></html>
